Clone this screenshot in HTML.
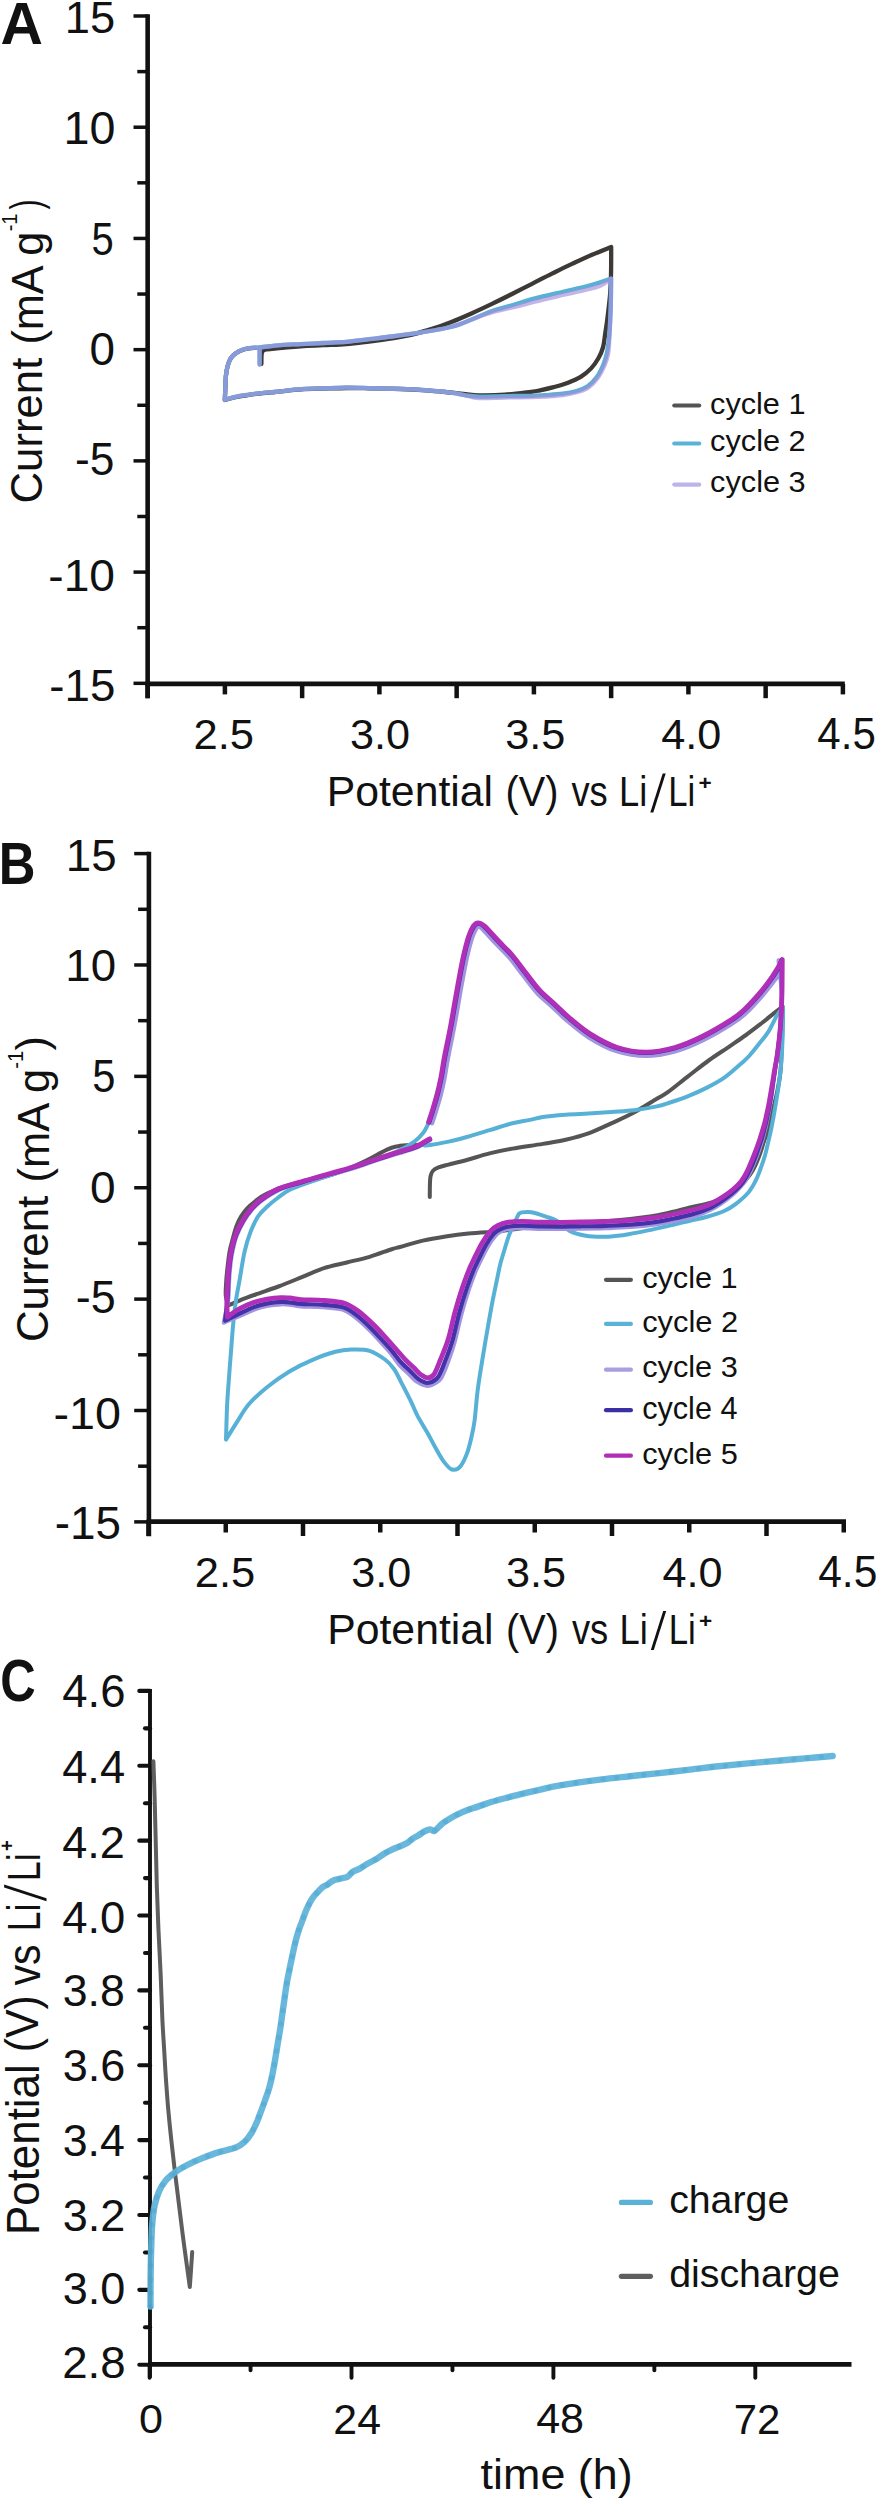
<!DOCTYPE html>
<html><head><meta charset="utf-8"><title>CV figure</title><style>html,body{margin:0;padding:0;background:#fff;}svg{display:block;}</style></head><body>
<svg width="877" height="2500" viewBox="0 0 877 2500" font-family='"Liberation Sans", sans-serif'><line x1="133.50" y1="16.00" x2="147.65" y2="16.00" stroke="#111111" stroke-width="3.5" stroke-linecap="butt"/>
<line x1="137.30" y1="71.61" x2="147.65" y2="71.61" stroke="#111111" stroke-width="3.5" stroke-linecap="butt"/>
<line x1="133.50" y1="127.22" x2="147.65" y2="127.22" stroke="#111111" stroke-width="3.5" stroke-linecap="butt"/>
<line x1="137.30" y1="182.83" x2="147.65" y2="182.83" stroke="#111111" stroke-width="3.5" stroke-linecap="butt"/>
<line x1="133.50" y1="238.44" x2="147.65" y2="238.44" stroke="#111111" stroke-width="3.5" stroke-linecap="butt"/>
<line x1="137.30" y1="294.05" x2="147.65" y2="294.05" stroke="#111111" stroke-width="3.5" stroke-linecap="butt"/>
<line x1="133.50" y1="349.66" x2="147.65" y2="349.66" stroke="#111111" stroke-width="3.5" stroke-linecap="butt"/>
<line x1="137.30" y1="405.27" x2="147.65" y2="405.27" stroke="#111111" stroke-width="3.5" stroke-linecap="butt"/>
<line x1="133.50" y1="460.88" x2="147.65" y2="460.88" stroke="#111111" stroke-width="3.5" stroke-linecap="butt"/>
<line x1="137.30" y1="516.49" x2="147.65" y2="516.49" stroke="#111111" stroke-width="3.5" stroke-linecap="butt"/>
<line x1="133.50" y1="572.10" x2="147.65" y2="572.10" stroke="#111111" stroke-width="3.5" stroke-linecap="butt"/>
<line x1="137.30" y1="627.71" x2="147.65" y2="627.71" stroke="#111111" stroke-width="3.5" stroke-linecap="butt"/>
<line x1="133.50" y1="683.32" x2="147.65" y2="683.32" stroke="#111111" stroke-width="3.5" stroke-linecap="butt"/>
<line x1="147.65" y1="683.90" x2="147.65" y2="698.20" stroke="#111111" stroke-width="4.5" stroke-linecap="butt"/>
<line x1="224.90" y1="683.90" x2="224.90" y2="694.40" stroke="#111111" stroke-width="4.5" stroke-linecap="butt"/>
<line x1="302.15" y1="683.90" x2="302.15" y2="698.20" stroke="#111111" stroke-width="4.5" stroke-linecap="butt"/>
<line x1="379.40" y1="683.90" x2="379.40" y2="694.40" stroke="#111111" stroke-width="4.5" stroke-linecap="butt"/>
<line x1="456.65" y1="683.90" x2="456.65" y2="698.20" stroke="#111111" stroke-width="4.5" stroke-linecap="butt"/>
<line x1="533.90" y1="683.90" x2="533.90" y2="694.40" stroke="#111111" stroke-width="4.5" stroke-linecap="butt"/>
<line x1="611.15" y1="683.90" x2="611.15" y2="698.20" stroke="#111111" stroke-width="4.5" stroke-linecap="butt"/>
<line x1="688.40" y1="683.90" x2="688.40" y2="694.40" stroke="#111111" stroke-width="4.5" stroke-linecap="butt"/>
<line x1="765.65" y1="683.90" x2="765.65" y2="698.20" stroke="#111111" stroke-width="4.5" stroke-linecap="butt"/>
<line x1="842.90" y1="683.90" x2="842.90" y2="694.40" stroke="#111111" stroke-width="4.5" stroke-linecap="butt"/>
<line x1="147.65" y1="14.25" x2="147.65" y2="698.20" stroke="#111111" stroke-width="4.6" stroke-linecap="butt"/>
<line x1="145.35" y1="683.90" x2="844.80" y2="683.90" stroke="#111111" stroke-width="4.7" stroke-linecap="butt"/>
<text transform="matrix(0.45354,0,0,0.45143,64.87,33.25)" font-size="100" fill="#111111">15</text>
<text transform="matrix(0.46667,0,0,0.45493,63.47,143.55)" font-size="100" fill="#111111">10</text>
<text transform="matrix(0.40000,0,0,0.46000,91.60,254.74)" font-size="100" fill="#111111">5</text>
<text transform="matrix(0.45833,0,0,0.45352,89.57,364.85)" font-size="100" fill="#111111">0</text>
<text transform="matrix(0.44321,0,0,0.45429,75.03,474.85)" font-size="100" fill="#111111">-5</text>
<text transform="matrix(0.46204,0,0,0.44930,48.25,590.55)" font-size="100" fill="#111111">-10</text>
<text transform="matrix(0.45735,0,0,0.44429,49.37,700.76)" font-size="100" fill="#111111">-15</text>
<text transform="matrix(0.43538,0,0,0.42817,193.52,749.07)" font-size="100" fill="#111111">2.5</text>
<text transform="matrix(0.43206,0,0,0.42817,349.97,749.07)" font-size="100" fill="#111111">3.0</text>
<text transform="matrix(0.43282,0,0,0.42817,505.17,749.07)" font-size="100" fill="#111111">3.5</text>
<text transform="matrix(0.43233,0,0,0.42817,661.24,749.07)" font-size="100" fill="#111111">4.0</text>
<text transform="matrix(0.42030,0,0,0.43429,817.36,749.07)" font-size="100" fill="#111111">4.5</text>
<text transform="matrix(0.58788,0,0,0.59706,0.54,43.50)" font-size="100" font-weight="bold" fill="#111111">A</text>
<text transform="matrix(0.42773,0,0,0.42660,326.68,806.30)" font-size="100" fill="#111111">Potential</text>
<text transform="matrix(0.39669,0,0,0.42660,505.62,806.30)" font-size="100" fill="#111111">(V)</text>
<text transform="matrix(0.36316,0,0,0.42660,571.44,806.30)" font-size="100" fill="#111111">vs</text>
<text transform="matrix(0.36349,0,0,0.42660,619.09,806.30)" font-size="100" fill="#111111">Li</text>
<polygon points="650.3,812.5 653.3,812.5 665.7,773.4 662.7,773.4" fill="#111111"/>
<text transform="matrix(0.34762,0,0,0.42660,668.22,806.30)" font-size="100" fill="#111111">Li</text>
<text transform="matrix(0.22600,0,0,0.20588,698.60,790.15)" font-size="100" font-weight="bold" fill="#111111">+</text>
<text transform="matrix(0,-0.43720,0.44225,0,42.06,503.49)" font-size="100" fill="#111111">Current</text>
<text transform="matrix(0,-0.43253,0.44200,0,42.50,344.60)" font-size="100" fill="#111111">(mA g</text>
<text transform="matrix(0,-0.20000,0.22029,0,17.40,231.30)" font-size="100" fill="#111111">-1</text>
<text transform="matrix(0,-0.30000,0.45106,0,41.33,209.60)" font-size="100" fill="#111111">)</text>
<line x1="674.30" y1="405.50" x2="699.20" y2="405.50" stroke="#545454" stroke-width="4.2" stroke-linecap="round"/>
<line x1="674.30" y1="443.50" x2="699.20" y2="443.50" stroke="#5ab3d7" stroke-width="4.2" stroke-linecap="round"/>
<line x1="674.30" y1="484.60" x2="699.20" y2="484.60" stroke="#bdb4ec" stroke-width="4.2" stroke-linecap="round"/>
<text transform="matrix(0.30662,0,0,0.29894,710.07,413.82)" font-size="100" fill="#111111">cycle 1</text>
<text transform="matrix(0.30728,0,0,0.29574,710.07,451.19)" font-size="100" fill="#111111">cycle 2</text>
<text transform="matrix(0.30726,0,0,0.30000,710.07,492.40)" font-size="100" fill="#111111">cycle 3</text>
<path d="M261.4,364.0C261.4,362.7 261.4,358.0 261.5,356.0C261.6,354.0 261.7,352.8 262.2,351.8C262.7,350.8 263.2,350.5 264.5,350.0C265.8,349.5 264.0,349.6 270.0,349.0C276.0,348.4 291.7,346.9 300.6,346.3C309.5,345.7 315.8,345.6 323.4,345.2C331.0,344.8 338.6,344.6 346.2,344.0C353.8,343.4 361.4,342.4 369.0,341.5C376.6,340.6 384.6,339.5 391.8,338.4C399.0,337.2 405.3,336.2 412.0,334.6C418.7,333.0 425.3,331.0 432.0,328.9C438.7,326.8 445.3,324.3 452.0,321.7C458.7,319.1 465.3,316.2 472.0,313.2C478.7,310.2 485.3,307.1 492.0,303.9C498.7,300.7 505.3,297.4 512.0,294.0C518.7,290.6 525.3,287.2 532.0,283.8C538.7,280.4 545.3,276.9 552.0,273.6C558.7,270.3 565.3,267.0 572.0,263.9C578.7,260.8 585.5,257.6 592.0,254.8C598.5,252.0 608.0,248.3 611.2,247.0C611.2,251.7 611.2,267.3 611.0,275.0C610.8,282.7 610.5,288.0 610.2,293.0C609.9,298.0 609.5,300.5 609.0,305.0C608.5,309.5 607.8,315.2 607.2,320.0C606.6,324.8 605.9,329.1 605.2,333.7C604.5,338.3 604.1,343.3 603.0,347.4C601.9,351.5 600.4,354.8 598.4,358.3C596.4,361.8 594.0,365.3 591.1,368.4C588.2,371.4 585.1,374.2 581.1,376.6C577.1,379.0 572.0,381.2 567.4,383.0C562.8,384.8 558.3,385.9 553.7,387.1C549.1,388.3 543.8,389.5 540.0,390.3C536.2,391.1 537.0,391.1 531.1,391.8C525.2,392.5 513.6,394.1 504.9,394.7C496.2,395.3 485.2,395.4 478.7,395.3C472.1,395.2 470.0,394.5 465.6,394.1C461.2,393.7 459.1,393.3 452.5,392.7C445.9,392.1 434.9,390.9 426.2,390.3C417.4,389.7 409.5,389.3 400.0,389.0C390.5,388.7 377.9,388.5 369.0,388.3C360.1,388.1 354.5,387.9 346.8,388.0C339.1,388.1 330.6,388.4 323.0,388.6C315.4,388.8 309.0,388.8 301.0,389.4C293.0,390.0 281.4,391.4 275.0,392.0C268.6,392.6 267.2,392.7 262.9,393.2C258.6,393.7 253.8,394.1 249.2,394.8C244.6,395.5 239.6,396.3 235.5,397.2C231.4,398.1 226.6,399.5 224.8,400.0C224.9,398.3 225.1,393.7 225.3,389.7C225.5,385.7 225.5,380.0 225.9,376.0C226.3,372.0 226.9,368.8 227.7,365.8C228.5,362.9 229.4,360.4 230.7,358.3C232.0,356.2 233.6,354.9 235.5,353.5C237.4,352.1 240.1,350.8 242.4,349.9C244.7,349.0 246.9,348.8 249.2,348.4C251.5,348.0 254.9,347.9 256.0,347.8" fill="none" stroke="#3c3936" stroke-width="4.3" stroke-linejoin="round" stroke-linecap="round"/>
<path d="M259.6,364.6L259.6,347.6C262.6,347.2 271.0,345.9 277.8,345.3C284.6,344.7 293.0,344.5 300.6,344.1C308.2,343.7 315.8,343.4 323.4,343.0C331.0,342.6 338.6,342.5 346.2,341.9C353.8,341.3 361.4,340.1 369.0,339.2C376.6,338.3 384.2,337.5 391.8,336.5C399.4,335.5 408.2,334.3 414.6,333.4C421.0,332.5 424.8,331.9 430.0,331.0C435.2,330.1 441.3,329.0 446.0,328.0C450.7,327.0 454.5,326.1 458.2,324.9C461.9,323.7 464.6,322.4 468.0,321.0C471.4,319.6 474.2,318.2 478.7,316.4C483.1,314.6 489.0,312.0 494.7,310.1C500.4,308.2 506.9,306.8 513.0,305.0C519.1,303.2 523.7,301.3 531.1,299.3C538.5,297.3 548.6,295.1 557.4,293.0C566.1,290.9 576.6,288.7 583.6,287.0C590.6,285.3 594.7,284.0 599.3,282.6C603.9,281.2 609.1,279.3 611.1,278.6C611.1,282.2 611.0,293.1 610.9,300.0C610.8,306.9 610.5,313.7 610.2,320.0C609.9,326.3 609.6,332.4 609.0,338.0C608.4,343.6 607.8,349.0 606.8,353.5C605.8,358.0 604.9,361.1 603.2,365.0C601.5,368.9 599.4,373.5 596.8,377.0C594.2,380.5 591.0,383.9 587.6,386.2C584.2,388.5 580.6,389.8 576.5,391.0C572.4,392.2 568.0,393.0 562.8,393.7C557.5,394.4 550.3,394.8 545.0,395.2C539.7,395.6 537.8,395.6 531.1,395.8C524.4,396.0 513.6,396.0 504.9,396.1C496.2,396.2 485.2,396.7 478.7,396.6C472.1,396.5 470.0,395.9 465.6,395.3C461.2,394.7 459.1,393.8 452.5,392.9C445.9,392.0 434.9,390.9 426.2,390.2C417.4,389.5 409.5,389.2 400.0,388.9C390.5,388.5 377.9,388.3 369.0,388.1C360.1,387.9 354.5,387.7 346.8,387.7C339.1,387.7 330.6,388.1 323.0,388.3C315.4,388.5 309.0,388.5 301.0,389.1C293.0,389.7 281.4,391.3 275.0,391.9C268.6,392.5 267.2,392.4 262.9,392.9C258.6,393.3 253.8,393.9 249.2,394.6C244.6,395.3 239.6,396.0 235.5,396.9C231.4,397.8 226.6,399.3 224.8,399.8C224.9,398.1 225.1,393.7 225.3,389.7C225.5,385.7 225.5,380.0 225.9,376.0C226.3,372.0 226.9,368.8 227.7,365.8C228.5,362.9 229.4,360.4 230.7,358.3C232.0,356.2 233.6,354.9 235.5,353.5C237.4,352.1 240.1,350.7 242.4,349.8C244.7,348.9 246.3,348.6 249.2,348.2C252.1,347.8 256.1,347.7 259.6,347.4C263.1,347.1 268.3,346.4 270.0,346.2" fill="none" stroke="#55b2d4" stroke-width="4.3" stroke-linejoin="round" stroke-linecap="round"/>
<path d="M259.6,364.6L259.6,347.6C262.6,347.2 271.0,345.9 277.8,345.3C284.6,344.7 293.0,344.5 300.6,344.1C308.2,343.7 315.8,343.4 323.4,343.0C331.0,342.6 338.6,342.5 346.2,341.9C353.8,341.3 361.4,340.1 369.0,339.2C376.6,338.3 384.2,337.5 391.8,336.5C399.4,335.5 408.2,334.3 414.6,333.4C421.0,332.5 424.8,331.9 430.0,331.0C435.2,330.1 441.3,329.0 446.0,328.0C450.7,327.0 454.5,326.1 458.2,324.9C461.9,323.7 464.6,322.3 468.0,321.0C471.4,319.7 474.4,318.4 478.9,316.8C483.4,315.2 489.3,313.0 495.1,311.4C500.9,309.7 507.5,308.7 513.7,307.2C519.8,305.7 524.5,304.2 531.9,302.4C539.3,300.5 549.4,298.2 558.1,296.1C566.9,294.1 577.4,291.8 584.4,290.1C591.4,288.4 595.8,287.6 600.2,285.7C604.7,283.7 609.3,279.8 611.1,278.6C611.1,282.2 611.0,293.1 610.9,300.0C610.8,306.9 610.4,313.7 610.2,320.0C610.0,326.3 609.8,332.4 609.4,338.0C609.1,343.7 608.9,349.2 608.1,353.8C607.3,358.4 606.2,361.5 604.5,365.5C602.8,369.6 600.6,374.2 597.9,377.8C595.2,381.5 591.9,384.9 588.4,387.4C584.9,389.8 581.1,391.1 576.9,392.3C572.7,393.6 568.3,394.4 563.0,395.1C557.7,395.8 550.4,396.2 545.1,396.6C539.8,396.9 537.8,397.0 531.1,397.2C524.4,397.4 513.7,397.4 504.9,397.5C496.2,397.6 485.2,398.4 478.7,398.0C472.1,397.6 470.0,396.1 465.6,395.3C461.2,394.5 459.1,393.8 452.5,392.9C445.9,392.0 434.9,390.9 426.2,390.2C417.4,389.5 409.5,389.2 400.0,388.9C390.5,388.5 377.9,388.3 369.0,388.1C360.1,387.9 354.5,387.7 346.8,387.7C339.1,387.7 330.6,388.1 323.0,388.3C315.4,388.5 309.0,388.5 301.0,389.1C293.0,389.7 281.4,391.3 275.0,391.9C268.6,392.5 267.2,392.4 262.9,392.9C258.6,393.3 253.8,393.9 249.2,394.6C244.6,395.3 239.6,396.0 235.5,396.9C231.4,397.8 226.6,399.3 224.8,399.8C224.9,398.1 225.1,393.7 225.3,389.7C225.5,385.7 225.5,380.0 225.9,376.0C226.3,372.0 226.9,368.8 227.7,365.8C228.5,362.9 229.4,360.4 230.7,358.3C232.0,356.2 233.6,354.9 235.5,353.5C237.4,352.1 240.1,350.7 242.4,349.8C244.7,348.9 246.3,348.6 249.2,348.2C252.1,347.8 256.1,347.7 259.6,347.4C263.1,347.1 268.3,346.4 270.0,346.2" fill="none" stroke="#a58ddc" stroke-width="4.3" stroke-linejoin="round" stroke-linecap="round" stroke-opacity="0.65"/>
<line x1="134.20" y1="853.60" x2="148.90" y2="853.60" stroke="#111111" stroke-width="3.5" stroke-linecap="butt"/>
<line x1="138.10" y1="909.29" x2="148.90" y2="909.29" stroke="#111111" stroke-width="3.5" stroke-linecap="butt"/>
<line x1="134.20" y1="964.98" x2="148.90" y2="964.98" stroke="#111111" stroke-width="3.5" stroke-linecap="butt"/>
<line x1="138.10" y1="1020.67" x2="148.90" y2="1020.67" stroke="#111111" stroke-width="3.5" stroke-linecap="butt"/>
<line x1="134.20" y1="1076.36" x2="148.90" y2="1076.36" stroke="#111111" stroke-width="3.5" stroke-linecap="butt"/>
<line x1="138.10" y1="1132.05" x2="148.90" y2="1132.05" stroke="#111111" stroke-width="3.5" stroke-linecap="butt"/>
<line x1="134.20" y1="1187.74" x2="148.90" y2="1187.74" stroke="#111111" stroke-width="3.5" stroke-linecap="butt"/>
<line x1="138.10" y1="1243.43" x2="148.90" y2="1243.43" stroke="#111111" stroke-width="3.5" stroke-linecap="butt"/>
<line x1="134.20" y1="1299.12" x2="148.90" y2="1299.12" stroke="#111111" stroke-width="3.5" stroke-linecap="butt"/>
<line x1="138.10" y1="1354.81" x2="148.90" y2="1354.81" stroke="#111111" stroke-width="3.5" stroke-linecap="butt"/>
<line x1="134.20" y1="1410.50" x2="148.90" y2="1410.50" stroke="#111111" stroke-width="3.5" stroke-linecap="butt"/>
<line x1="138.10" y1="1466.19" x2="148.90" y2="1466.19" stroke="#111111" stroke-width="3.5" stroke-linecap="butt"/>
<line x1="134.20" y1="1521.88" x2="148.90" y2="1521.88" stroke="#111111" stroke-width="3.5" stroke-linecap="butt"/>
<line x1="148.50" y1="1521.70" x2="148.50" y2="1536.00" stroke="#111111" stroke-width="4.5" stroke-linecap="butt"/>
<line x1="225.75" y1="1521.70" x2="225.75" y2="1532.50" stroke="#111111" stroke-width="4.5" stroke-linecap="butt"/>
<line x1="303.00" y1="1521.70" x2="303.00" y2="1536.00" stroke="#111111" stroke-width="4.5" stroke-linecap="butt"/>
<line x1="380.25" y1="1521.70" x2="380.25" y2="1532.50" stroke="#111111" stroke-width="4.5" stroke-linecap="butt"/>
<line x1="457.50" y1="1521.70" x2="457.50" y2="1536.00" stroke="#111111" stroke-width="4.5" stroke-linecap="butt"/>
<line x1="534.75" y1="1521.70" x2="534.75" y2="1532.50" stroke="#111111" stroke-width="4.5" stroke-linecap="butt"/>
<line x1="612.00" y1="1521.70" x2="612.00" y2="1536.00" stroke="#111111" stroke-width="4.5" stroke-linecap="butt"/>
<line x1="689.25" y1="1521.70" x2="689.25" y2="1532.50" stroke="#111111" stroke-width="4.5" stroke-linecap="butt"/>
<line x1="766.50" y1="1521.70" x2="766.50" y2="1536.00" stroke="#111111" stroke-width="4.5" stroke-linecap="butt"/>
<line x1="843.75" y1="1521.70" x2="843.75" y2="1532.50" stroke="#111111" stroke-width="4.5" stroke-linecap="butt"/>
<line x1="148.90" y1="851.85" x2="148.90" y2="1536.30" stroke="#111111" stroke-width="4.6" stroke-linecap="butt"/>
<line x1="146.60" y1="1521.70" x2="846.00" y2="1521.70" stroke="#111111" stroke-width="4.7" stroke-linecap="butt"/>
<text transform="matrix(0.45758,0,0,0.44857,65.84,870.75)" font-size="100" fill="#111111">15</text>
<text transform="matrix(0.45657,0,0,0.44507,65.25,981.35)" font-size="100" fill="#111111">10</text>
<text transform="matrix(0.41702,0,0,0.45571,92.23,1092.44)" font-size="100" fill="#111111">5</text>
<text transform="matrix(0.46042,0,0,0.45211,90.06,1202.95)" font-size="100" fill="#111111">0</text>
<text transform="matrix(0.44938,0,0,0.45429,75.80,1312.95)" font-size="100" fill="#111111">-5</text>
<text transform="matrix(0.46715,0,0,0.44225,53.43,1428.56)" font-size="100" fill="#111111">-10</text>
<text transform="matrix(0.45809,0,0,0.45571,54.77,1539.44)" font-size="100" fill="#111111">-15</text>
<text transform="matrix(0.43538,0,0,0.43099,194.82,1587.17)" font-size="100" fill="#111111">2.5</text>
<text transform="matrix(0.43206,0,0,0.43099,351.27,1587.17)" font-size="100" fill="#111111">3.0</text>
<text transform="matrix(0.43206,0,0,0.43099,505.97,1587.17)" font-size="100" fill="#111111">3.5</text>
<text transform="matrix(0.43233,0,0,0.43099,662.54,1587.17)" font-size="100" fill="#111111">4.0</text>
<text transform="matrix(0.42556,0,0,0.43714,818.15,1587.16)" font-size="100" fill="#111111">4.5</text>
<text transform="matrix(0.50820,0,0,0.59710,-1.26,884.20)" font-size="100" font-weight="bold" fill="#111111">B</text>
<text transform="matrix(0.42773,0,0,0.42660,327.18,1643.90)" font-size="100" fill="#111111">Potential</text>
<text transform="matrix(0.39669,0,0,0.42660,506.12,1643.90)" font-size="100" fill="#111111">(V)</text>
<text transform="matrix(0.36316,0,0,0.42660,571.94,1643.90)" font-size="100" fill="#111111">vs</text>
<text transform="matrix(0.36349,0,0,0.42660,619.59,1643.90)" font-size="100" fill="#111111">Li</text>
<polygon points="650.8,1650.1 653.8,1650.1 666.2,1611.0 663.2,1611.0" fill="#111111"/>
<text transform="matrix(0.34762,0,0,0.42660,668.72,1643.90)" font-size="100" fill="#111111">Li</text>
<text transform="matrix(0.22600,0,0,0.20588,699.10,1627.75)" font-size="100" font-weight="bold" fill="#111111">+</text>
<text transform="matrix(0,-0.43902,0.44225,0,48.06,1342.10)" font-size="100" fill="#111111">Current</text>
<text transform="matrix(0,-0.43534,0.44200,0,48.50,1182.41)" font-size="100" fill="#111111">(mA g</text>
<text transform="matrix(0,-0.20375,0.22029,0,23.40,1068.72)" font-size="100" fill="#111111">-1</text>
<text transform="matrix(0,-0.43077,0.45106,0,47.33,1050.43)" font-size="100" fill="#111111">)</text>
<line x1="606.00" y1="1279.80" x2="630.90" y2="1279.80" stroke="#545454" stroke-width="4.2" stroke-linecap="round"/>
<line x1="606.00" y1="1323.90" x2="630.90" y2="1323.90" stroke="#5ab3d7" stroke-width="4.2" stroke-linecap="round"/>
<line x1="606.00" y1="1369.70" x2="630.90" y2="1369.70" stroke="#a99ee0" stroke-width="4.2" stroke-linecap="round"/>
<line x1="606.00" y1="1410.20" x2="630.90" y2="1410.20" stroke="#3a2fa3" stroke-width="4.2" stroke-linecap="round"/>
<line x1="606.00" y1="1455.70" x2="630.90" y2="1455.70" stroke="#b22db5" stroke-width="4.2" stroke-linecap="round"/>
<text transform="matrix(0.30695,0,0,0.30213,642.17,1287.86)" font-size="100" fill="#111111">cycle 1</text>
<text transform="matrix(0.30828,0,0,0.30213,642.17,1332.26)" font-size="100" fill="#111111">cycle 2</text>
<text transform="matrix(0.30726,0,0,0.29894,642.17,1377.42)" font-size="100" fill="#111111">cycle 3</text>
<text transform="matrix(0.30625,0,0,0.30532,642.17,1418.59)" font-size="100" fill="#111111">cycle 4</text>
<text transform="matrix(0.30726,0,0,0.29787,642.17,1463.74)" font-size="100" fill="#111111">cycle 5</text>
<path d="M429.8,1197.0C429.8,1195.0 429.8,1188.5 429.9,1185.0C430.0,1181.5 430.1,1178.4 430.6,1176.0C431.2,1173.6 431.9,1171.9 433.2,1170.5C434.5,1169.1 435.9,1168.4 438.5,1167.4C441.1,1166.4 443.9,1165.8 448.6,1164.6C453.3,1163.4 460.0,1161.9 466.8,1160.0C473.6,1158.1 482.0,1155.3 489.6,1153.4C497.2,1151.5 503.5,1150.2 512.4,1148.6C521.3,1147.0 533.9,1145.4 542.8,1143.9C551.7,1142.4 558.0,1141.5 565.6,1139.8C573.2,1138.0 580.8,1136.1 588.4,1133.4C596.0,1130.7 603.6,1126.9 611.2,1123.4C618.8,1119.9 626.4,1116.6 634.0,1112.5C641.6,1108.4 651.1,1102.2 656.8,1098.8C662.5,1095.4 663.0,1095.6 668.2,1091.9C673.4,1088.2 681.1,1081.7 688.0,1076.4C694.9,1071.1 702.3,1065.0 709.3,1060.0C716.3,1055.0 723.9,1050.3 730.0,1046.1C736.1,1041.9 740.7,1038.8 746.0,1035.0C751.3,1031.2 757.1,1026.7 761.9,1023.0C766.7,1019.3 771.2,1015.4 774.7,1012.6C778.2,1009.8 781.4,1007.4 782.7,1006.4C782.6,1012.0 782.4,1029.4 782.0,1040.0C781.6,1050.6 781.4,1061.7 780.6,1070.0C779.9,1078.3 778.5,1084.5 777.5,1090.0C776.5,1095.5 775.6,1098.9 774.5,1103.0C773.4,1107.1 772.4,1109.4 771.1,1114.7C769.8,1120.0 767.6,1130.8 766.5,1135.0C765.4,1139.2 765.5,1136.7 764.4,1140.0C763.2,1143.3 761.5,1150.0 759.6,1155.0C757.7,1160.0 755.4,1165.7 753.0,1170.0C750.6,1174.3 747.8,1177.8 745.0,1181.0C742.2,1184.2 739.5,1186.4 736.0,1189.0C732.5,1191.6 728.5,1194.2 724.2,1196.5C719.9,1198.8 715.7,1201.2 710.0,1203.0C704.3,1204.8 696.7,1205.9 690.0,1207.5C683.3,1209.1 676.7,1211.0 670.0,1212.5C663.3,1214.0 659.2,1215.2 650.0,1216.5C640.8,1217.8 626.4,1219.5 614.7,1220.5C603.0,1221.5 589.1,1222.0 580.0,1222.6C570.9,1223.2 567.2,1223.4 560.0,1224.0C552.8,1224.6 544.5,1225.1 536.8,1226.0C529.1,1226.9 520.5,1228.3 514.0,1229.2C507.5,1230.1 501.8,1231.0 498.0,1231.5C494.2,1232.0 496.1,1231.7 491.2,1232.0C486.3,1232.3 476.0,1232.8 468.4,1233.5C460.8,1234.2 453.2,1235.2 445.6,1236.4C438.0,1237.6 430.4,1238.8 422.8,1240.6C415.2,1242.4 405.1,1245.6 400.0,1247.0C394.9,1248.4 397.5,1247.4 392.4,1249.0C387.3,1250.6 377.2,1254.5 369.6,1256.8C362.0,1259.0 354.4,1260.6 346.8,1262.5C339.2,1264.4 331.6,1265.7 324.0,1268.2C316.4,1270.7 308.8,1274.4 301.2,1277.4C293.6,1280.5 286.0,1283.7 278.4,1286.5C270.8,1289.3 262.0,1292.2 255.6,1294.5C249.2,1296.8 244.5,1298.5 240.0,1300.3C235.5,1302.1 230.3,1304.6 228.4,1305.4C228.0,1303.8 226.2,1299.4 225.8,1296.0C225.4,1292.6 225.8,1289.3 226.0,1285.0C226.2,1280.7 226.6,1275.5 227.2,1270.0C227.8,1264.5 228.6,1257.2 229.5,1252.0C230.4,1246.8 231.6,1242.9 232.8,1238.6C234.0,1234.3 235.1,1229.7 236.5,1226.0C237.9,1222.3 239.2,1219.4 241.0,1216.5C242.8,1213.6 244.7,1211.0 247.0,1208.5C249.3,1206.0 251.7,1204.0 255.0,1201.5C258.3,1199.0 261.2,1196.2 267.0,1193.5C272.8,1190.8 280.3,1187.8 289.8,1185.0C299.3,1182.2 314.8,1179.5 324.0,1177.0C333.2,1174.5 338.3,1172.6 345.0,1170.0C351.7,1167.4 357.2,1165.0 364.2,1161.6C371.2,1158.2 381.4,1152.2 387.0,1149.6C392.6,1147.0 394.2,1147.0 398.0,1146.2C401.8,1145.4 405.7,1145.2 410.0,1145.0C414.3,1144.8 421.7,1145.0 424.0,1145.0" fill="none" stroke="#555555" stroke-width="4.0" stroke-linejoin="round" stroke-linecap="round"/>
<path d="M424.0,1145.4C425.1,1145.3 426.2,1145.6 430.3,1145.0C434.4,1144.4 442.5,1142.9 448.6,1141.6C454.7,1140.3 460.0,1138.9 466.8,1137.0C473.6,1135.1 482.0,1132.5 489.6,1130.2C497.2,1127.9 505.7,1125.0 512.4,1123.3C519.1,1121.6 524.9,1121.0 530.0,1119.9C535.1,1118.9 536.9,1117.9 542.8,1117.0C548.7,1116.1 558.0,1115.3 565.6,1114.7C573.2,1114.1 580.8,1114.0 588.4,1113.6C596.0,1113.1 603.6,1112.6 611.2,1112.0C618.8,1111.4 626.4,1111.1 634.0,1110.2C641.6,1109.3 650.8,1107.7 656.8,1106.4C662.8,1105.1 664.8,1104.2 670.0,1102.5C675.2,1100.8 682.1,1098.5 688.2,1096.1C694.3,1093.7 700.4,1091.0 706.5,1087.9C712.6,1084.8 718.6,1081.7 724.7,1077.4C730.8,1073.1 738.8,1065.6 743.0,1061.9C747.2,1058.2 747.5,1057.8 750.0,1055.0C752.5,1052.2 754.9,1049.2 757.9,1045.3C760.9,1041.4 765.2,1036.6 768.3,1031.8C771.4,1027.0 774.2,1020.3 776.3,1016.6C778.4,1012.9 780.0,1010.9 781.1,1009.4C782.2,1007.9 782.8,1007.9 783.1,1007.6C783.0,1012.3 783.0,1026.2 782.7,1035.8C782.4,1045.4 781.8,1056.4 781.1,1065.0C780.4,1073.6 779.5,1079.9 778.4,1087.4C777.3,1094.9 775.8,1103.6 774.7,1110.2C773.6,1116.8 772.6,1122.0 771.6,1127.0C770.6,1132.0 769.8,1135.3 768.7,1140.0C767.6,1144.7 766.5,1150.0 765.1,1155.0C763.7,1160.0 761.7,1165.7 760.1,1170.0C758.5,1174.3 757.5,1177.2 755.5,1181.0C753.5,1184.8 751.5,1188.9 748.2,1192.7C744.9,1196.5 739.6,1201.0 735.6,1204.1C731.6,1207.1 729.0,1208.9 724.2,1211.0C719.5,1213.1 712.8,1215.1 707.1,1216.7C701.4,1218.3 696.3,1219.2 690.0,1220.7C683.7,1222.2 676.5,1224.0 669.5,1225.6C662.5,1227.2 654.9,1229.0 648.0,1230.4C641.1,1231.8 633.4,1233.3 628.4,1234.2C623.4,1235.1 622.1,1235.3 617.7,1235.7C613.3,1236.1 607.1,1236.8 601.8,1236.8C596.5,1236.8 591.1,1236.7 585.8,1235.7C580.5,1234.7 574.6,1233.4 569.8,1230.9C565.0,1228.4 561.0,1223.3 557.0,1220.9C553.0,1218.5 550.1,1218.0 545.9,1216.6C541.6,1215.1 535.6,1212.9 531.5,1212.2C527.4,1211.5 523.6,1212.1 521.5,1212.4C519.4,1212.7 519.2,1213.7 518.7,1214.0C518.2,1215.1 517.1,1217.0 515.5,1220.5C513.9,1224.0 511.1,1230.0 509.2,1234.9C507.3,1239.8 505.9,1245.2 504.4,1250.0C502.9,1254.8 501.6,1259.0 500.3,1264.0C499.1,1269.0 498.3,1273.1 496.9,1280.0C495.5,1286.9 493.7,1294.9 491.7,1305.6C489.7,1316.3 487.2,1330.7 484.9,1344.4C482.6,1358.1 479.7,1375.0 478.0,1387.7C476.3,1400.4 475.7,1412.1 474.6,1420.5C473.5,1428.9 472.5,1432.8 471.2,1438.3C469.9,1443.8 468.8,1448.7 467.0,1453.4C465.2,1458.1 462.7,1463.9 460.2,1466.6C457.7,1469.3 454.7,1470.3 452.0,1469.5C449.3,1468.7 446.5,1465.2 443.8,1461.6C441.1,1458.0 438.3,1452.7 435.6,1447.9C432.9,1443.1 430.4,1438.0 427.4,1432.8C424.4,1427.5 420.6,1421.6 417.8,1416.4C415.1,1411.2 413.4,1406.6 410.9,1401.4C408.4,1396.2 405.6,1390.8 402.8,1385.4C400.0,1380.0 397.0,1373.3 394.0,1369.0C391.0,1364.7 389.1,1362.5 385.0,1359.5C380.9,1356.5 375.2,1352.5 369.6,1350.8C364.0,1349.1 357.1,1349.4 351.4,1349.6C345.7,1349.8 341.9,1350.1 335.4,1351.8C328.9,1353.5 320.2,1356.6 312.6,1359.8C305.0,1363.0 297.4,1366.6 289.8,1371.2C282.2,1375.8 273.8,1381.7 267.0,1387.2C260.2,1392.7 253.7,1398.6 248.8,1404.3C243.9,1410.0 241.2,1415.5 237.4,1421.4C233.6,1427.3 227.9,1436.6 226.0,1439.6C226.2,1433.9 226.6,1416.2 227.1,1405.4C227.6,1394.6 228.5,1385.1 229.2,1375.0C229.9,1364.9 230.8,1354.2 231.5,1345.0C232.2,1335.8 232.8,1327.5 233.6,1320.0C234.3,1312.5 235.0,1306.7 236.0,1300.0C237.0,1293.3 238.2,1288.0 239.6,1280.0C241.0,1272.0 242.7,1260.0 244.5,1252.0C246.3,1244.0 248.2,1237.9 250.5,1232.0C252.8,1226.1 255.2,1220.8 258.0,1216.5C260.8,1212.2 264.1,1209.5 267.3,1206.5C270.5,1203.5 273.2,1201.3 277.0,1198.5C280.8,1195.7 283.9,1192.7 289.8,1189.8C295.7,1186.9 305.0,1183.9 312.6,1181.2C320.2,1178.5 325.9,1176.8 335.4,1173.6C344.9,1170.4 359.1,1166.0 369.6,1162.2C380.1,1158.4 390.9,1154.1 398.4,1150.7C405.9,1147.3 410.2,1144.6 414.4,1141.6C418.6,1138.6 421.1,1135.5 423.5,1132.5C425.9,1129.5 427.7,1124.8 428.5,1123.3" fill="none" stroke="#57b1d6" stroke-width="4.0" stroke-linejoin="round" stroke-linecap="round"/>
<path d="M432.1,1123.4C432.8,1121.3 434.8,1115.5 436.2,1110.7C437.7,1105.9 439.5,1100.0 440.9,1094.7C442.3,1089.3 443.4,1084.7 444.5,1078.7C445.7,1072.7 446.3,1067.5 447.9,1058.7C449.6,1049.9 452.2,1038.0 454.4,1026.1C456.7,1014.2 459.2,998.8 461.2,987.4C463.3,976.0 465.1,966.1 466.9,957.8C468.7,949.5 470.6,942.6 472.2,937.7C473.8,932.8 475.4,930.2 476.4,928.4C477.4,926.5 477.2,926.5 478.2,926.6C479.1,926.7 479.1,926.0 482.1,928.8C485.0,931.7 491.3,938.8 495.8,943.6C500.4,948.4 504.9,952.4 509.4,957.7C513.9,963.0 518.4,969.5 523.0,975.3C527.6,981.2 531.8,987.3 536.8,992.7C541.8,998.1 547.9,1002.9 553.0,1007.7C558.1,1012.4 561.6,1016.2 567.6,1021.2C573.6,1026.2 580.9,1032.6 589.0,1037.6C597.1,1042.6 606.5,1048.1 616.0,1051.1C625.5,1054.2 636.1,1056.0 646.1,1056.0C656.1,1056.0 666.5,1053.8 675.9,1051.2C685.4,1048.6 693.4,1045.0 702.8,1040.4C712.1,1035.9 724.8,1028.4 732.0,1023.8C739.3,1019.2 741.4,1017.4 746.2,1013.0C751.0,1008.6 756.5,1002.4 760.7,997.6C764.9,992.9 768.2,988.8 771.4,984.6C774.5,980.3 778.3,976.3 779.5,972.3C780.7,968.3 778.7,962.4 778.6,960.4C779.1,966.3 781.6,984.7 781.9,995.9C782.2,1007.1 781.0,1018.4 780.3,1027.8C779.6,1037.2 778.5,1045.5 777.6,1052.5C776.7,1059.5 775.7,1064.9 775.0,1070.1C774.3,1075.3 774.0,1078.4 773.2,1083.6C772.5,1088.9 771.7,1095.3 770.7,1101.3C769.7,1107.3 768.3,1114.8 767.3,1119.7C766.3,1124.6 765.6,1127.1 764.8,1130.6C763.9,1134.1 763.4,1136.6 762.0,1140.8C760.7,1145.1 758.8,1151.0 756.9,1156.1C755.0,1161.2 752.7,1166.8 750.5,1171.3C748.3,1175.8 746.2,1179.7 743.7,1183.1C741.2,1186.5 738.5,1189.2 735.6,1192.0C732.7,1194.7 729.9,1197.0 726.5,1199.6C723.1,1202.2 718.9,1205.2 715.0,1207.5C711.2,1209.7 707.1,1211.5 703.2,1213.1C699.3,1214.6 696.5,1215.6 691.6,1216.9C686.6,1218.2 679.2,1219.9 673.4,1221.1C667.6,1222.3 663.9,1223.2 656.7,1224.1C649.6,1225.1 639.1,1226.3 630.5,1227.0C621.9,1227.7 613.6,1227.9 605.2,1228.2C596.8,1228.5 587.7,1228.6 580.1,1228.7C572.6,1228.8 566.4,1229.0 560.0,1229.0C553.7,1229.0 548.2,1229.0 541.8,1228.9C535.5,1228.7 527.6,1228.1 521.9,1228.1C516.3,1228.1 511.6,1228.4 508.1,1229.0C504.7,1229.6 503.2,1230.4 501.1,1231.4C499.0,1232.5 497.7,1233.0 495.5,1235.5C493.3,1238.0 490.6,1241.6 487.9,1246.4C485.1,1251.1 481.1,1259.6 479.0,1263.9C476.9,1268.3 476.9,1268.0 475.1,1272.5C473.4,1276.9 470.7,1283.8 468.5,1290.5C466.2,1297.2 463.9,1304.7 461.8,1312.8C459.6,1320.8 457.1,1332.4 455.5,1338.8C453.8,1345.2 453.1,1347.2 451.8,1351.2C450.5,1355.2 448.9,1359.5 447.6,1362.9C446.3,1366.4 445.5,1368.8 444.1,1371.8C442.7,1374.7 441.9,1378.2 439.2,1380.5C436.4,1382.8 431.5,1385.7 427.7,1385.8C423.9,1385.9 419.6,1383.3 416.3,1381.2C413.0,1379.0 411.0,1375.8 408.1,1373.1C405.3,1370.4 402.3,1368.2 399.3,1364.8C396.4,1361.5 393.2,1356.3 390.5,1352.9C387.7,1349.5 386.5,1348.3 383.0,1344.5C379.5,1340.7 374.3,1334.8 369.5,1330.1C364.7,1325.4 358.7,1319.8 354.2,1316.4C349.7,1313.0 347.7,1311.1 342.5,1309.6C337.4,1308.1 330.4,1307.7 323.4,1307.2C316.5,1306.6 306.4,1306.7 300.7,1306.3C295.0,1305.9 292.6,1305.0 289.3,1304.7C286.1,1304.3 284.6,1304.1 281.0,1304.3C277.5,1304.5 272.4,1305.0 268.2,1305.8C264.0,1306.6 259.8,1307.5 255.6,1308.9C251.4,1310.4 248.3,1312.3 243.0,1314.6C237.6,1316.8 227.0,1321.2 223.8,1322.6C224.5,1318.8 227.2,1307.1 228.1,1300.0C229.0,1292.9 228.7,1286.4 229.1,1280.1C229.5,1273.8 230.1,1267.1 230.7,1262.2C231.3,1257.2 231.7,1254.7 232.7,1250.3C233.7,1245.8 234.8,1240.4 236.7,1235.5C238.6,1230.6 241.5,1225.1 243.9,1221.0C246.3,1216.8 248.2,1214.1 251.0,1210.8C253.8,1207.6 256.0,1204.7 260.7,1201.2C265.3,1197.8 272.1,1193.0 278.9,1190.0C285.7,1187.0 293.0,1185.6 301.6,1183.0C310.1,1180.5 321.8,1177.2 330.4,1174.7C339.0,1172.3 345.6,1170.6 353.2,1168.2C360.8,1165.9 368.4,1162.9 376.0,1160.4C383.6,1157.9 391.9,1155.4 398.8,1153.2C405.7,1151.0 411.9,1149.5 417.2,1147.3C422.5,1145.1 428.1,1141.2 430.3,1139.9" fill="none" stroke="#a394e0" stroke-width="4.2" stroke-linejoin="round" stroke-linecap="round"/>
<path d="M429.3,1122.4C429.9,1120.3 431.9,1114.6 433.4,1109.8C434.8,1105.1 436.6,1099.2 438.0,1093.9C439.3,1088.6 440.4,1084.1 441.6,1078.2C442.8,1072.2 443.3,1066.9 445.0,1058.1C446.6,1049.4 449.3,1037.4 451.5,1025.5C453.7,1013.7 456.2,998.2 458.3,986.8C460.4,975.4 462.1,965.5 464.0,957.2C465.8,948.8 467.7,941.8 469.4,936.7C471.0,931.7 472.5,928.8 474.0,926.7C475.4,924.5 476.4,923.6 478.1,923.6C479.8,923.6 480.8,923.6 484.1,926.6C487.4,929.6 493.4,936.7 498.0,941.6C502.6,946.4 507.1,950.4 511.7,955.7C516.3,961.0 520.8,967.7 525.4,973.5C529.9,979.3 534.1,985.3 539.0,990.6C544.0,996.0 550.0,1000.8 555.1,1005.5C560.1,1010.2 563.6,1014.0 569.5,1018.9C575.4,1023.8 582.7,1030.2 590.6,1035.1C598.5,1040.0 607.7,1045.3 617.0,1048.3C626.2,1051.2 636.4,1053.0 646.1,1053.0C655.8,1053.0 665.9,1050.8 675.1,1048.3C684.3,1045.7 692.2,1042.2 701.5,1037.7C710.7,1033.2 723.3,1025.8 730.4,1021.3C737.5,1016.8 739.5,1015.1 744.1,1010.8C748.8,1006.5 754.4,1000.3 758.5,995.6C762.6,991.0 765.9,986.9 768.9,982.8C772.0,978.6 774.9,974.6 777.0,970.7C779.1,966.9 780.8,961.6 781.5,959.8C781.6,965.8 782.1,984.6 781.9,995.9C781.7,1007.2 781.0,1018.4 780.3,1027.8C779.6,1037.2 778.5,1045.5 777.6,1052.5C776.7,1059.5 775.6,1064.9 774.9,1070.0C774.1,1075.2 773.7,1078.4 772.9,1083.6C772.2,1088.8 771.3,1095.3 770.2,1101.3C769.2,1107.2 767.7,1114.7 766.7,1119.5C765.6,1124.4 764.9,1126.9 764.0,1130.4C763.1,1133.9 762.5,1136.3 761.2,1140.5C759.8,1144.8 757.8,1150.7 755.9,1155.7C754.0,1160.8 751.7,1166.4 749.5,1170.8C747.4,1175.3 745.3,1179.1 742.8,1182.5C740.4,1185.8 737.6,1188.4 734.8,1191.0C731.9,1193.6 729.1,1195.9 725.7,1198.3C722.3,1200.8 718.1,1203.8 714.2,1205.9C710.4,1208.0 706.4,1209.6 702.6,1211.1C698.7,1212.5 695.9,1213.3 691.0,1214.6C686.0,1215.9 678.6,1217.5 672.9,1218.7C667.1,1219.9 663.5,1220.8 656.4,1221.8C649.3,1222.7 638.9,1223.9 630.3,1224.6C621.8,1225.3 613.5,1225.5 605.1,1225.8C596.8,1226.1 587.6,1226.2 580.1,1226.3C572.6,1226.4 566.4,1226.6 560.0,1226.6C553.7,1226.6 548.2,1226.6 541.9,1226.5C535.5,1226.3 527.6,1225.7 521.9,1225.7C516.2,1225.7 511.4,1226.0 507.7,1226.6C504.1,1227.2 502.3,1228.1 500.0,1229.3C497.6,1230.5 496.0,1231.2 493.7,1233.9C491.3,1236.5 488.6,1240.3 485.8,1245.2C483.0,1250.0 479.0,1258.5 476.9,1262.9C474.7,1267.3 474.7,1267.1 472.9,1271.6C471.1,1276.1 468.4,1283.0 466.2,1289.8C463.9,1296.5 461.6,1304.1 459.4,1312.1C457.3,1320.2 454.8,1331.8 453.1,1338.2C451.4,1344.5 450.6,1346.3 449.2,1350.2C447.9,1354.2 446.2,1358.4 444.8,1361.8C443.5,1365.2 442.7,1367.8 441.4,1370.5C440.1,1373.3 439.3,1376.4 437.0,1378.4C434.7,1380.5 430.9,1382.7 427.7,1382.8C424.6,1382.9 421.0,1380.7 418.1,1378.7C415.2,1376.8 413.0,1373.6 410.2,1370.9C407.4,1368.3 404.5,1366.0 401.5,1362.8C398.5,1359.5 395.1,1354.7 392.3,1351.3C389.5,1348.0 388.2,1346.7 384.7,1342.9C381.2,1339.1 376.0,1333.1 371.2,1328.4C366.3,1323.6 360.3,1318.0 355.6,1314.4C351.0,1310.9 348.6,1308.9 343.2,1307.3C337.9,1305.7 330.7,1305.4 323.6,1304.8C316.6,1304.2 306.6,1304.3 300.9,1303.9C295.2,1303.5 292.9,1302.6 289.6,1302.3C286.3,1301.9 284.6,1301.7 280.9,1301.9C277.3,1302.1 272.1,1302.6 267.8,1303.4C263.4,1304.2 259.1,1305.2 254.8,1306.7C250.5,1308.2 246.7,1310.1 241.8,1312.5C236.8,1314.8 227.9,1319.2 225.1,1320.6C225.5,1317.1 226.8,1306.8 227.4,1300.0C228.0,1293.3 228.0,1286.4 228.4,1280.0C228.8,1273.7 229.4,1267.1 230.0,1262.1C230.6,1257.1 231.0,1254.6 232.0,1250.1C233.0,1245.7 234.2,1240.1 236.1,1235.2C237.9,1230.3 240.9,1224.7 243.3,1220.6C245.7,1216.5 247.6,1213.7 250.5,1210.4C253.3,1207.1 255.6,1204.2 260.3,1200.7C265.0,1197.2 271.8,1192.4 278.6,1189.3C285.5,1186.3 292.8,1184.9 301.4,1182.4C310.0,1179.8 321.6,1176.5 330.2,1174.1C338.8,1171.6 345.4,1170.0 353.0,1167.6C360.6,1165.2 368.2,1162.3 375.8,1159.8C383.4,1157.3 391.7,1154.8 398.6,1152.6C405.4,1150.4 411.7,1148.9 416.9,1146.7C422.2,1144.4 427.8,1140.5 430.0,1139.3" fill="none" stroke="#4433a8" stroke-width="4.2" stroke-linejoin="round" stroke-linecap="round"/>
<path d="M428.5,1122.2C429.2,1120.1 431.2,1114.3 432.6,1109.6C434.1,1104.8 435.8,1099.0 437.2,1093.7C438.6,1088.4 439.6,1084.0 440.8,1078.0C442.0,1072.0 442.6,1066.8 444.2,1058.0C445.8,1049.2 448.5,1037.3 450.7,1025.4C452.9,1013.5 455.4,998.1 457.5,986.7C459.6,975.3 461.3,965.4 463.2,957.0C465.1,948.6 466.9,941.6 468.6,936.5C470.3,931.4 471.7,928.5 473.3,926.2C474.9,923.9 476.2,922.8 478.1,922.8C480.0,922.8 481.2,923.0 484.6,926.0C488.0,929.0 494.0,936.1 498.6,941.0C503.2,945.9 507.7,949.9 512.3,955.2C516.9,960.5 521.5,967.2 526.0,973.0C530.5,978.8 534.7,984.8 539.6,990.1C544.5,995.4 550.5,1000.2 555.6,1004.9C560.7,1009.6 564.1,1013.4 570.0,1018.3C575.9,1023.2 583.1,1029.5 591.0,1034.4C598.9,1039.3 608.0,1044.5 617.2,1047.5C626.4,1050.5 636.5,1052.2 646.1,1052.2C655.7,1052.2 665.7,1050.0 674.9,1047.5C684.1,1045.0 691.9,1041.5 701.1,1037.0C710.3,1032.5 722.9,1025.1 730.0,1020.6C737.1,1016.1 739.0,1014.5 743.6,1010.2C748.2,1006.0 753.8,999.8 757.9,995.1C762.0,990.5 765.2,986.4 768.3,982.3C771.4,978.2 774.0,974.1 776.3,970.3C778.6,966.5 781.3,961.4 782.3,959.6C782.2,965.6 782.2,984.5 781.9,995.9C781.6,1007.3 781.0,1018.4 780.3,1027.8C779.6,1037.2 778.5,1045.5 777.6,1052.5C776.7,1059.5 775.5,1064.8 774.6,1070.0C773.7,1075.2 773.3,1078.3 772.4,1083.5C771.5,1088.7 770.5,1095.1 769.4,1101.1C768.3,1107.1 766.7,1114.5 765.6,1119.3C764.5,1124.1 763.7,1126.5 762.7,1130.0C761.7,1133.5 761.0,1135.8 759.6,1140.0C758.2,1144.2 756.1,1150.0 754.1,1155.0C752.1,1160.0 749.9,1165.6 747.8,1170.0C745.7,1174.4 743.7,1178.1 741.3,1181.3C738.9,1184.5 736.1,1186.8 733.3,1189.3C730.4,1191.8 727.6,1193.8 724.2,1196.1C720.8,1198.4 716.6,1201.1 712.8,1203.0C709.0,1204.9 705.2,1206.3 701.4,1207.5C697.6,1208.7 694.9,1209.2 690.0,1210.4C685.1,1211.6 677.7,1213.3 672.0,1214.5C666.3,1215.7 662.8,1216.5 655.8,1217.5C648.8,1218.5 638.5,1219.6 630.0,1220.3C621.5,1221.0 613.3,1221.2 605.0,1221.5C596.7,1221.8 587.5,1221.9 580.0,1222.0C572.5,1222.1 566.3,1222.3 560.0,1222.3C553.7,1222.3 548.4,1222.3 542.0,1222.2C535.6,1222.1 527.7,1221.4 521.9,1221.4C516.1,1221.4 511.0,1221.7 507.0,1222.4C503.0,1223.1 500.8,1224.1 498.0,1225.5C495.2,1226.9 493.1,1228.1 490.5,1231.0C487.9,1233.9 485.0,1238.0 482.1,1243.0C479.2,1248.0 475.2,1256.5 473.0,1261.0C470.8,1265.5 470.7,1265.4 468.9,1270.0C467.1,1274.6 464.4,1281.6 462.1,1288.4C459.8,1295.2 457.5,1302.9 455.3,1311.0C453.1,1319.1 450.6,1330.7 448.9,1337.0C447.2,1343.3 446.3,1344.8 444.9,1348.6C443.5,1352.4 441.6,1356.7 440.3,1360.0C439.0,1363.3 438.0,1366.0 436.9,1368.5C435.8,1371.0 435.0,1373.4 433.5,1375.0C432.0,1376.6 429.9,1377.9 427.8,1377.9C425.7,1377.9 423.4,1376.5 421.0,1374.8C418.6,1373.0 416.3,1370.0 413.6,1367.4C410.9,1364.8 408.0,1362.6 405.0,1359.4C402.0,1356.2 398.4,1351.7 395.5,1348.5C392.6,1345.3 391.4,1343.9 387.9,1340.0C384.3,1336.1 379.1,1330.1 374.2,1325.3C369.2,1320.5 363.1,1314.7 358.2,1311.0C353.2,1307.3 350.2,1305.0 344.5,1303.2C338.8,1301.5 331.2,1301.1 324.0,1300.5C316.8,1299.9 306.9,1300.0 301.2,1299.6C295.5,1299.2 293.4,1298.3 290.0,1298.0C286.6,1297.7 284.5,1297.4 280.7,1297.6C276.9,1297.8 271.6,1298.4 267.0,1299.2C262.4,1300.0 257.9,1301.0 253.4,1302.6C248.8,1304.2 244.0,1306.3 239.7,1308.7C235.4,1311.1 229.5,1315.6 227.5,1317.0C227.4,1314.2 226.8,1306.2 226.8,1300.0C226.9,1293.8 227.4,1286.3 227.8,1280.0C228.2,1273.7 228.8,1267.0 229.4,1262.0C230.0,1257.0 230.4,1254.5 231.4,1250.0C232.4,1245.5 233.6,1240.0 235.5,1235.0C237.4,1230.0 240.4,1224.5 242.8,1220.3C245.2,1216.1 247.2,1213.3 250.0,1210.0C252.8,1206.7 255.2,1203.7 259.9,1200.2C264.6,1196.7 271.5,1191.9 278.4,1188.8C285.3,1185.7 292.6,1184.3 301.2,1181.8C309.8,1179.2 321.4,1176.0 330.0,1173.5C338.6,1171.0 345.2,1169.4 352.8,1167.0C360.4,1164.6 368.0,1161.7 375.6,1159.2C383.2,1156.7 391.5,1154.2 398.4,1152.0C405.2,1149.8 411.5,1148.3 416.7,1146.1C421.9,1143.9 427.5,1140.0 429.7,1138.8" fill="none" stroke="#b02fb8" stroke-width="4.8" stroke-linejoin="round" stroke-linecap="round"/>
<line x1="139.30" y1="1690.90" x2="150.00" y2="1690.90" stroke="#111111" stroke-width="4.1" stroke-linecap="round"/>
<line x1="145.00" y1="1728.34" x2="150.00" y2="1728.34" stroke="#111111" stroke-width="4.1" stroke-linecap="round"/>
<line x1="139.30" y1="1765.77" x2="150.00" y2="1765.77" stroke="#111111" stroke-width="4.1" stroke-linecap="round"/>
<line x1="145.00" y1="1803.20" x2="150.00" y2="1803.20" stroke="#111111" stroke-width="4.1" stroke-linecap="round"/>
<line x1="139.30" y1="1840.64" x2="150.00" y2="1840.64" stroke="#111111" stroke-width="4.1" stroke-linecap="round"/>
<line x1="145.00" y1="1878.08" x2="150.00" y2="1878.08" stroke="#111111" stroke-width="4.1" stroke-linecap="round"/>
<line x1="139.30" y1="1915.51" x2="150.00" y2="1915.51" stroke="#111111" stroke-width="4.1" stroke-linecap="round"/>
<line x1="145.00" y1="1952.95" x2="150.00" y2="1952.95" stroke="#111111" stroke-width="4.1" stroke-linecap="round"/>
<line x1="139.30" y1="1990.38" x2="150.00" y2="1990.38" stroke="#111111" stroke-width="4.1" stroke-linecap="round"/>
<line x1="145.00" y1="2027.82" x2="150.00" y2="2027.82" stroke="#111111" stroke-width="4.1" stroke-linecap="round"/>
<line x1="139.30" y1="2065.25" x2="150.00" y2="2065.25" stroke="#111111" stroke-width="4.1" stroke-linecap="round"/>
<line x1="145.00" y1="2102.68" x2="150.00" y2="2102.68" stroke="#111111" stroke-width="4.1" stroke-linecap="round"/>
<line x1="139.30" y1="2140.12" x2="150.00" y2="2140.12" stroke="#111111" stroke-width="4.1" stroke-linecap="round"/>
<line x1="145.00" y1="2177.55" x2="150.00" y2="2177.55" stroke="#111111" stroke-width="4.1" stroke-linecap="round"/>
<line x1="139.30" y1="2214.99" x2="150.00" y2="2214.99" stroke="#111111" stroke-width="4.1" stroke-linecap="round"/>
<line x1="145.00" y1="2252.43" x2="150.00" y2="2252.43" stroke="#111111" stroke-width="4.1" stroke-linecap="round"/>
<line x1="139.30" y1="2289.86" x2="150.00" y2="2289.86" stroke="#111111" stroke-width="4.1" stroke-linecap="round"/>
<line x1="145.00" y1="2327.30" x2="150.00" y2="2327.30" stroke="#111111" stroke-width="4.1" stroke-linecap="round"/>
<line x1="139.30" y1="2364.73" x2="150.00" y2="2364.73" stroke="#111111" stroke-width="4.1" stroke-linecap="round"/>
<line x1="149.60" y1="2364.30" x2="149.60" y2="2377.70" stroke="#111111" stroke-width="3.9" stroke-linecap="round"/>
<line x1="250.55" y1="2364.30" x2="250.55" y2="2370.30" stroke="#111111" stroke-width="3.9" stroke-linecap="round"/>
<line x1="351.50" y1="2364.30" x2="351.50" y2="2377.70" stroke="#111111" stroke-width="3.9" stroke-linecap="round"/>
<line x1="452.45" y1="2364.30" x2="452.45" y2="2370.30" stroke="#111111" stroke-width="3.9" stroke-linecap="round"/>
<line x1="553.40" y1="2364.30" x2="553.40" y2="2377.70" stroke="#111111" stroke-width="3.9" stroke-linecap="round"/>
<line x1="654.35" y1="2364.30" x2="654.35" y2="2370.30" stroke="#111111" stroke-width="3.9" stroke-linecap="round"/>
<line x1="755.30" y1="2364.30" x2="755.30" y2="2377.70" stroke="#111111" stroke-width="3.9" stroke-linecap="round"/>
<line x1="150.00" y1="1688.90" x2="150.00" y2="2377.70" stroke="#111111" stroke-width="3.9" stroke-linecap="butt"/>
<line x1="148.05" y1="2364.30" x2="851.50" y2="2364.30" stroke="#111111" stroke-width="4.8" stroke-linecap="butt"/>
<text transform="matrix(0.45564,0,0,0.45352,62.19,1707.35)" font-size="100" fill="#111111">4.6</text>
<text transform="matrix(0.45224,0,0,0.45507,62.20,1782.70)" font-size="100" fill="#111111">4.4</text>
<text transform="matrix(0.45076,0,0,0.44571,62.20,1858.10)" font-size="100" fill="#111111">4.2</text>
<text transform="matrix(0.45414,0,0,0.44930,62.19,1932.85)" font-size="100" fill="#111111">4.0</text>
<text transform="matrix(0.44656,0,0,0.44930,62.71,2005.65)" font-size="100" fill="#111111">3.8</text>
<text transform="matrix(0.45038,0,0,0.44507,62.70,2080.75)" font-size="100" fill="#111111">3.6</text>
<text transform="matrix(0.44697,0,0,0.44930,62.71,2155.95)" font-size="100" fill="#111111">3.4</text>
<text transform="matrix(0.45000,0,0,0.44507,62.70,2230.65)" font-size="100" fill="#111111">3.2</text>
<text transform="matrix(0.45038,0,0,0.44930,62.70,2304.45)" font-size="100" fill="#111111">3.0</text>
<text transform="matrix(0.45692,0,0,0.43662,62.22,2378.46)" font-size="100" fill="#111111">2.8</text>
<text transform="matrix(0.43125,0,0,0.41268,139.08,2433.19)" font-size="100" fill="#111111">0</text>
<text transform="matrix(0.42816,0,0,0.42571,333.36,2433.70)" font-size="100" fill="#111111">24</text>
<text transform="matrix(0.43048,0,0,0.41831,536.14,2433.38)" font-size="100" fill="#111111">48</text>
<text transform="matrix(0.41881,0,0,0.42000,733.71,2434.20)" font-size="100" fill="#111111">72</text>
<text transform="matrix(0.49077,0,0,0.58592,0.34,1700.91)" font-size="100" font-weight="bold" fill="#111111">C</text>
<text transform="matrix(0.44894,0,0,0.42470,480.60,2489.30)" font-size="100" fill="#111111">time (h)</text>
<text transform="matrix(0,-0.43893,0.45541,0,39.14,2235.01)" font-size="100" fill="#111111">Potential</text>
<text transform="matrix(0,-0.42893,0.45426,0,38.26,2052.37)" font-size="100" fill="#111111">(V)</text>
<text transform="matrix(0,-0.41053,0.45500,0,39.60,1985.41)" font-size="100" fill="#111111">vs</text>
<text transform="matrix(0,-0.35556,0.45500,0,39.60,1931.24)" font-size="100" fill="#111111">Li</text>
<polygon points="46.5,1901.2 46.5,1898.2 4.1,1884.6 4.1,1887.6" fill="#111111"/>
<text transform="matrix(0,-0.35714,0.45500,0,39.60,1881.16)" font-size="100" fill="#111111">Li</text>
<text transform="matrix(0,-0.18200,0.19804,0,13.98,1850.93)" font-size="100" font-weight="bold" fill="#111111">+</text>
<line x1="621.45" y1="2202.40" x2="650.35" y2="2202.40" stroke="#5ab3d7" stroke-width="5.3" stroke-linecap="round"/>
<line x1="621.45" y1="2276.30" x2="650.35" y2="2276.30" stroke="#5e5e5e" stroke-width="5.3" stroke-linecap="round"/>
<text transform="matrix(0.39293,0,0,0.38830,669.13,2213.45)" font-size="100" fill="#111111">charge</text>
<text transform="matrix(0.39365,0,0,0.39681,669.13,2286.57)" font-size="100" fill="#111111">discharge</text>
<path d="M153.4,1761.3C153.6,1767.1 154.2,1782.8 154.6,1796.0C155.0,1809.2 155.3,1825.8 155.7,1840.8C156.1,1855.8 156.3,1870.8 156.8,1885.7C157.3,1900.7 157.8,1915.6 158.5,1930.5C159.2,1945.4 160.0,1960.4 160.7,1975.3C161.3,1990.2 161.8,2007.5 162.4,2020.0C163.0,2032.5 163.6,2040.3 164.2,2050.3C164.8,2060.3 165.3,2070.1 166.0,2080.0C166.7,2089.9 167.4,2100.0 168.3,2110.0C169.2,2120.0 170.2,2130.0 171.3,2140.0C172.4,2150.0 173.5,2160.0 174.7,2170.0C175.9,2180.0 177.1,2189.5 178.4,2200.0C179.7,2210.5 181.1,2221.9 182.5,2233.0C183.9,2244.1 185.8,2257.6 187.0,2266.6C188.2,2275.6 189.3,2283.6 189.8,2287.0C190.0,2284.2 190.6,2275.8 191.0,2270.0C191.4,2264.2 192.0,2255.0 192.2,2252.0" fill="none" stroke="#5e5e5e" stroke-width="4.0" stroke-linejoin="round" stroke-linecap="round"/>
<path d="M150.5,2306.6C150.5,2302.2 150.5,2288.6 150.6,2280.0C150.7,2271.4 150.8,2262.5 151.0,2255.0C151.2,2247.5 151.4,2240.5 151.6,2235.0C151.8,2229.5 151.9,2226.7 152.4,2221.8C152.9,2216.9 153.5,2210.6 154.6,2205.5C155.7,2200.4 157.2,2195.7 159.0,2191.5C160.8,2187.3 163.1,2183.8 165.7,2180.6C168.3,2177.4 171.7,2174.9 174.7,2172.6C177.7,2170.3 180.6,2168.7 183.6,2167.0C186.6,2165.3 189.6,2163.8 192.6,2162.4C195.6,2161.0 197.4,2160.0 201.6,2158.4C205.8,2156.8 211.8,2154.4 217.5,2152.6C223.2,2150.8 231.2,2149.4 235.8,2147.6C240.4,2145.8 242.3,2143.9 244.9,2141.5C247.5,2139.1 249.6,2136.1 251.5,2133.0C253.4,2129.9 254.8,2126.8 256.5,2123.0C258.2,2119.2 260.0,2114.0 261.5,2110.0C263.0,2106.0 264.2,2102.7 265.5,2099.0C266.8,2095.3 268.1,2092.0 269.2,2088.0C270.3,2084.0 271.4,2079.3 272.3,2075.0C273.2,2070.7 273.8,2067.0 274.7,2062.0C275.6,2057.0 276.6,2050.5 277.5,2045.0C278.4,2039.5 279.3,2034.5 280.2,2029.0C281.1,2023.5 281.8,2017.4 282.6,2012.0C283.4,2006.6 284.1,2001.5 284.8,1996.5C285.5,1991.5 286.2,1986.6 287.0,1982.0C287.8,1977.4 288.7,1973.5 289.6,1969.0C290.5,1964.5 291.5,1959.5 292.5,1955.0C293.5,1950.5 294.4,1946.0 295.4,1942.0C296.4,1938.0 297.4,1934.5 298.5,1931.0C299.6,1927.5 300.9,1924.6 302.2,1921.0C303.5,1917.4 304.9,1913.2 306.5,1909.5C308.1,1905.8 310.2,1901.7 311.9,1899.0C313.6,1896.3 314.8,1895.2 316.5,1893.3C318.2,1891.4 320.4,1889.0 322.2,1887.5C324.0,1886.0 325.8,1885.7 327.5,1884.6C329.2,1883.5 330.6,1881.8 332.6,1880.8C334.6,1879.8 337.0,1879.5 339.5,1878.8C342.0,1878.1 345.2,1877.9 347.4,1876.8C349.6,1875.7 350.5,1873.3 352.5,1872.0C354.5,1870.7 356.9,1870.2 359.3,1868.9C361.7,1867.6 364.0,1865.7 367.0,1864.0C370.0,1862.3 374.2,1860.3 377.1,1858.6C380.0,1856.8 382.0,1855.0 384.5,1853.5C387.0,1852.0 389.4,1850.9 391.9,1849.7C394.4,1848.5 397.0,1847.6 399.5,1846.5C402.0,1845.4 404.5,1844.6 406.7,1843.3C408.9,1842.0 410.5,1840.1 412.5,1838.8C414.5,1837.5 416.5,1836.5 418.6,1835.2C420.7,1833.9 423.0,1832.2 425.0,1831.2C427.0,1830.2 428.8,1829.5 430.4,1829.4C432.0,1829.3 432.5,1831.8 434.5,1830.8C436.5,1829.8 439.7,1825.6 442.3,1823.6C444.9,1821.5 447.5,1820.0 450.0,1818.5C452.5,1817.0 454.3,1816.0 457.1,1814.6C459.9,1813.2 463.5,1811.5 467.0,1810.2C470.5,1808.9 473.7,1808.0 477.9,1806.6C482.1,1805.2 487.1,1803.3 492.0,1801.8C496.9,1800.3 502.5,1798.9 507.5,1797.6C512.5,1796.3 517.0,1795.0 522.0,1793.8C527.0,1792.6 530.9,1791.7 537.2,1790.3C543.5,1788.9 549.5,1787.2 560.0,1785.4C570.5,1783.6 588.3,1781.1 600.0,1779.6C611.7,1778.1 620.1,1777.3 630.0,1776.2C639.9,1775.1 649.3,1774.2 659.3,1773.1C669.3,1772.0 680.1,1770.7 690.0,1769.6C699.9,1768.5 708.9,1767.3 718.6,1766.3C728.3,1765.3 738.1,1764.3 748.0,1763.4C757.9,1762.5 768.4,1761.6 777.9,1760.8C787.4,1760.0 795.9,1759.2 805.0,1758.4C814.1,1757.6 828.1,1756.4 832.7,1756.0" fill="none" stroke="#5cb2d9" stroke-width="6.4" stroke-linejoin="round" stroke-linecap="round" stroke-opacity="0.92"/>
<path d="M150.5,2306.6C150.5,2302.2 150.5,2288.6 150.6,2280.0C150.7,2271.4 150.8,2262.5 151.0,2255.0C151.2,2247.5 151.4,2240.5 151.6,2235.0C151.8,2229.5 151.9,2226.7 152.4,2221.8C152.9,2216.9 153.5,2210.6 154.6,2205.5C155.7,2200.4 157.2,2195.7 159.0,2191.5C160.8,2187.3 163.1,2183.8 165.7,2180.6C168.3,2177.4 171.7,2174.9 174.7,2172.6C177.7,2170.3 180.6,2168.7 183.6,2167.0C186.6,2165.3 189.6,2163.8 192.6,2162.4C195.6,2161.0 197.4,2160.0 201.6,2158.4C205.8,2156.8 211.8,2154.4 217.5,2152.6C223.2,2150.8 231.2,2149.4 235.8,2147.6C240.4,2145.8 242.3,2143.9 244.9,2141.5C247.5,2139.1 249.6,2136.1 251.5,2133.0C253.4,2129.9 254.8,2126.8 256.5,2123.0C258.2,2119.2 260.0,2114.0 261.5,2110.0C263.0,2106.0 264.2,2102.7 265.5,2099.0C266.8,2095.3 268.1,2092.0 269.2,2088.0C270.3,2084.0 271.4,2079.3 272.3,2075.0C273.2,2070.7 273.8,2067.0 274.7,2062.0C275.6,2057.0 276.6,2050.5 277.5,2045.0C278.4,2039.5 279.3,2034.5 280.2,2029.0C281.1,2023.5 281.8,2017.4 282.6,2012.0C283.4,2006.6 284.1,2001.5 284.8,1996.5C285.5,1991.5 286.2,1986.6 287.0,1982.0C287.8,1977.4 288.7,1973.5 289.6,1969.0C290.5,1964.5 291.5,1959.5 292.5,1955.0C293.5,1950.5 294.4,1946.0 295.4,1942.0C296.4,1938.0 297.4,1934.5 298.5,1931.0C299.6,1927.5 300.9,1924.6 302.2,1921.0C303.5,1917.4 304.9,1913.2 306.5,1909.5C308.1,1905.8 310.2,1901.7 311.9,1899.0C313.6,1896.3 314.8,1895.2 316.5,1893.3C318.2,1891.4 320.4,1889.0 322.2,1887.5C324.0,1886.0 325.8,1885.7 327.5,1884.6C329.2,1883.5 330.6,1881.8 332.6,1880.8C334.6,1879.8 337.0,1879.5 339.5,1878.8C342.0,1878.1 345.2,1877.9 347.4,1876.8C349.6,1875.7 350.5,1873.3 352.5,1872.0C354.5,1870.7 356.9,1870.2 359.3,1868.9C361.7,1867.6 364.0,1865.7 367.0,1864.0C370.0,1862.3 374.2,1860.3 377.1,1858.6C380.0,1856.8 382.0,1855.0 384.5,1853.5C387.0,1852.0 389.4,1850.9 391.9,1849.7C394.4,1848.5 397.0,1847.6 399.5,1846.5C402.0,1845.4 404.5,1844.6 406.7,1843.3C408.9,1842.0 410.5,1840.1 412.5,1838.8C414.5,1837.5 416.5,1836.5 418.6,1835.2C420.7,1833.9 423.0,1832.2 425.0,1831.2C427.0,1830.2 428.8,1829.5 430.4,1829.4C432.0,1829.3 432.5,1831.8 434.5,1830.8C436.5,1829.8 439.7,1825.6 442.3,1823.6C444.9,1821.5 447.5,1820.0 450.0,1818.5C452.5,1817.0 454.3,1816.0 457.1,1814.6C459.9,1813.2 463.5,1811.5 467.0,1810.2C470.5,1808.9 473.7,1808.0 477.9,1806.6C482.1,1805.2 487.1,1803.3 492.0,1801.8C496.9,1800.3 502.5,1798.9 507.5,1797.6C512.5,1796.3 517.0,1795.0 522.0,1793.8C527.0,1792.6 530.9,1791.7 537.2,1790.3C543.5,1788.9 549.5,1787.2 560.0,1785.4C570.5,1783.6 588.3,1781.1 600.0,1779.6C611.7,1778.1 620.1,1777.3 630.0,1776.2C639.9,1775.1 649.3,1774.2 659.3,1773.1C669.3,1772.0 680.1,1770.7 690.0,1769.6C699.9,1768.5 708.9,1767.3 718.6,1766.3C728.3,1765.3 738.1,1764.3 748.0,1763.4C757.9,1762.5 768.4,1761.6 777.9,1760.8C787.4,1760.0 795.9,1759.2 805.0,1758.4C814.1,1757.6 828.1,1756.4 832.7,1756.0" fill="none" stroke="#3d9fcf" stroke-width="5.4" stroke-linejoin="round" stroke-linecap="round" stroke-opacity="0.35" stroke-dasharray="0 13.7"/></svg>
</body></html>
